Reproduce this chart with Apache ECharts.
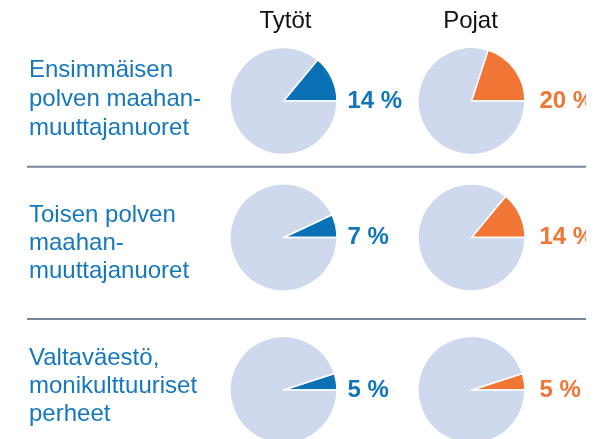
<!DOCTYPE html>
<html>
<head>
<meta charset="utf-8">
<script src="https://cdn.jsdelivr.net/npm/echarts@6/dist/echarts.min.js"></script>
<style>
html,body{margin:0;padding:0;background:#fff;}
#chart{width:599px;height:439px;}
</style>
</head>
<body>
<div id="chart"></div>
<script>
// ---- data ----
var columns = ['Tytöt', 'Pojat'];
var rowLabels = [
  ['Ensimmäisen', 'polven maahan-', 'muuttajanuoret'],
  ['Toisen polven', 'maahan-', 'muuttajanuoret'],
  ['Valtaväestö,', 'monikulttuuriset', 'perheet']
];
var girls = [14, 7, 5];
var boys = [20, 14, 5];

// ---- layout / style ----
var colX = [283.5, 471.5];
var headerX = [285.5, 470.5];
var labelGap = [10.5, 14.5];
var rowY = [101, 237.5, 390];
var radius = 53.5;
var labelTop = [55.5, 201, 345];
var labelLH = [29.2, 28, 27.6];
var sepY = [166.7, 319];
var clipX = 586;
var FONT = '"Liberation Sans", Arial, sans-serif';
var colColors = ['#0a71b7', '#f17535'];
var textColors = ['#1275ba', '#f17535'];
var restColor = '#cfd9ee';
var rowTextColor = '#1577bc';

var chart = echarts.init(document.getElementById('chart'), null, {renderer: 'canvas'});

var series = [];
var graphics = [];
var values = [girls, boys];

columns.forEach(function (name, c) {
  graphics.push({
    type: 'text', x: headerX[c], y: 21.5, silent: true,
    style: {text: name, font: '24px ' + FONT, fill: '#111', align: 'center', verticalAlign: 'middle'}
  });
});

rowLabels.forEach(function (lines, r) {
  graphics.push({
    type: 'text', x: 29, y: labelTop[r], silent: true,
    style: {text: lines.join('\n'), font: '24px ' + FONT, fill: rowTextColor,
            lineHeight: labelLH[r], align: 'left', verticalAlign: 'top'}
  });
  for (var c = 0; c < 2; c++) {
    var v = values[c][r];
    series.push({
      type: 'pie',
      center: [colX[c], rowY[r]],
      radius: [0, radius],
      startAngle: 0,
      clockwise: false,
      silent: true,
      animation: false,
      label: {show: false},
      labelLine: {show: false},
      itemStyle: {borderColor: '#ffffff', borderWidth: 1.5},
      data: [
        {value: v, itemStyle: {color: colColors[c]}},
        {value: 100 - v, itemStyle: {color: restColor}}
      ]
    });
    graphics.push({
      type: 'text', x: colX[c] + radius + labelGap[c], y: rowY[r], silent: true, z: 10,
      style: {text: v + ' %', font: 'bold 24px ' + FONT, fill: textColors[c],
              align: 'left', verticalAlign: 'middle'}
    });
  }
});

sepY.forEach(function (y) {
  graphics.push({
    type: 'line', silent: true,
    shape: {x1: 27, y1: y, x2: clipX, y2: y},
    style: {stroke: '#74879a', lineWidth: 2}
  });
});

// the original picture is cropped at its right edge
graphics.push({
  type: 'rect', silent: true, z: 100,
  shape: {x: clipX, y: 0, width: 599 - clipX, height: 439},
  style: {fill: '#ffffff'}
});

chart.setOption({
  animation: false,
  backgroundColor: '#ffffff',
  series: series,
  graphic: graphics
});
</script>
</body>
</html>
